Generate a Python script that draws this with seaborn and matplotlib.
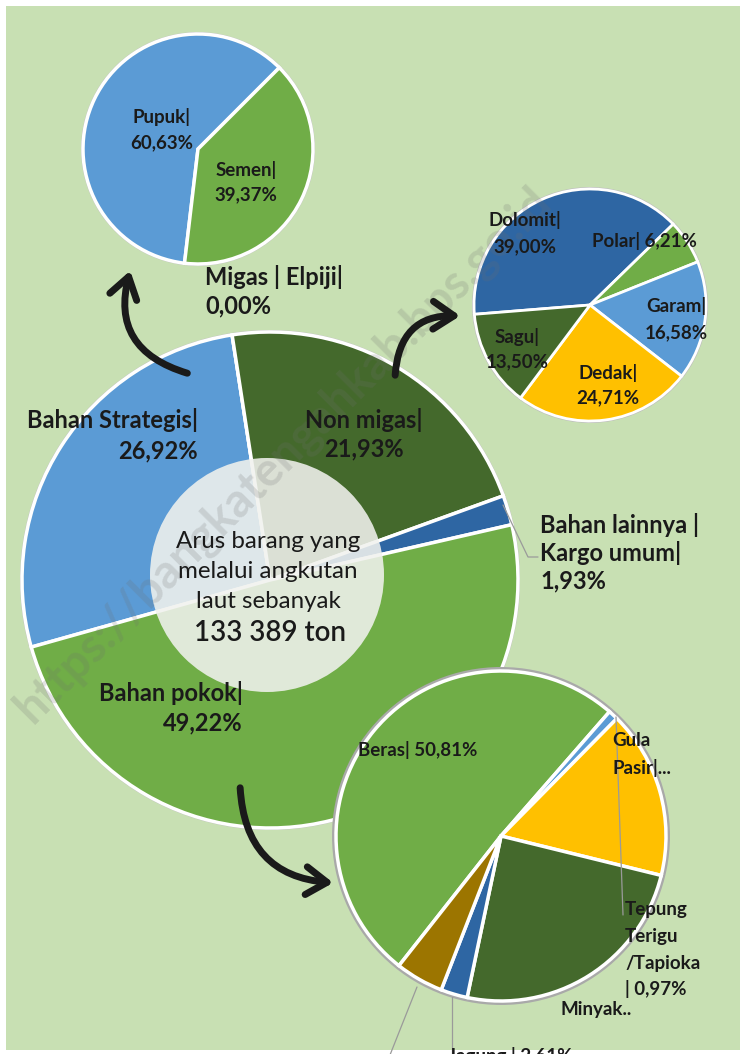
import matplotlib
matplotlib.use("Agg")
import matplotlib.pyplot as plt
from matplotlib.patches import Circle, Rectangle, FancyArrowPatch
import seaborn as sns

W, H = 740, 1054

# main pie: share of sea freight by goods group (%)
main_labels = ["Bahan Strategis", "Migas | Elpiji", "Non migas",
               "Bahan lainnya | Kargo umum", "Bahan pokok"]
main_values = [26.92, 0.00, 21.93, 1.93, 49.22]

# breakdown of Bahan Strategis
strat_labels = ["Pupuk", "Semen"]
strat_values = [60.63, 39.37]

# breakdown of Non migas
nonmigas_labels = ["Dolomit", "Polar", "Garam", "Dedak", "Sagu"]
nonmigas_values = [39.00, 6.21, 16.58, 24.71, 13.50]

# breakdown of Bahan pokok (last slice label lies outside the picture)
pokok_labels = ["Beras", "Tepung Terigu/Tapioka", "Gula Pasir", "Minyak Goreng", "Jagung", "Lainnya"]
pokok_values = [50.81, 0.97, 16.45, 24.45, 2.61, 4.71]

LBLUE = "#5B9BD5"
GREEN = "#70AD47"
DGREEN = "#44692C"
DBLUE = "#2E66A3"
YELLOW = "#FFC000"
BROWN = "#9C7500"
BG = "#C8E0B3"
INK = "#1A1A1A"

sns.set_theme(style="white")
plt.rcParams["font.family"] = ["Lato", "DejaVu Sans"]

BIG = 17
SMALL = 13.5


def pct(v):
    return f"{v:.2f}".replace(".", ",") + "%"


def put(ax, lines, x, y, ha="center", size=BIG, step=28, weight="bold"):
    # y given in picture pixels (from top)
    for i, line in enumerate(lines):
        ax.text(x, H - (y + i * step), line, ha=ha, va="center",
                fontsize=size, fontweight=weight, color=INK, zorder=20)


def leader(ax, xs, ys):
    ax.plot(xs, [H - y for y in ys], color="#9A9A9A", lw=0.9, zorder=19, clip_on=False)


fig = plt.figure(figsize=(W / 100, H / 100), dpi=100)
fig.patch.set_facecolor("white")
ax = fig.add_axes([0, 0, 1, 1])

ax.add_patch(Rectangle((6, 4), W, H - 10, facecolor=BG, edgecolor="none", zorder=0))

# watermark
ax.text(283, H - 455, "https://bangkatengahkab.bps.go.id", rotation=45,
        ha="center", va="center", fontsize=34, fontweight="bold",
        color="#6f6f6f", alpha=0.2, zorder=15)

# ---- main pie
mc, mr = (270, H - 580), 248
ax.add_patch(Circle(mc, mr + 2, facecolor="#BDBDBD", edgecolor="none", zorder=1))
ax.pie(main_values, center=mc, radius=mr, startangle=195.7, counterclock=False,
       colors=[LBLUE, DGREEN, DGREEN, DBLUE, GREEN],
       wedgeprops=dict(edgecolor="white", linewidth=2.5, zorder=2), frame=True)
ax.add_patch(Circle((267, H - 575), 117, facecolor="#F1F2EE", alpha=0.88,
                    edgecolor="none", zorder=3))
center_lines = ["Arus barang yang", "melalui angkutan", "laut sebanyak"]
for i, line in enumerate(center_lines):
    ax.text(268, H - (541 + i * 30), line, ha="center", va="center",
            fontsize=17.4, color=INK, zorder=20)
ax.text(270, H - 633, "133 389 ton", ha="center", va="center",
        fontsize=20, fontweight="semibold", color=INK, zorder=20)

put(ax, [main_labels[0] + "|", pct(main_values[0])], 198, 420, ha="right", step=31)
put(ax, ["Migas | Elpiji|", pct(main_values[1])], 205, 277, ha="left", step=29)
put(ax, [main_labels[2] + "|", pct(main_values[2])], 364, 420, step=29)
put(ax, ["Bahan lainnya |", "Kargo umum|", pct(main_values[3])], 540, 525, ha="left", step=28)
put(ax, [main_labels[4] + "|", pct(main_values[4])], 243, 693, ha="right", step=30)
leader(ax, [503, 528, 538], [505, 557, 557])

# ---- Bahan Strategis pie
sc, sr = (198, H - 149), 115
ax.add_patch(Circle(sc, sr + 2, facecolor="#BDBDBD", edgecolor="none", zorder=1))
ax.pie(strat_values, center=sc, radius=sr, startangle=45, counterclock=True,
       colors=[LBLUE, GREEN], wedgeprops=dict(edgecolor="white", linewidth=2.5, zorder=2),
       frame=True)
put(ax, [strat_labels[0] + "|", pct(strat_values[0])], 162, 117, size=SMALL, step=26)
put(ax, [strat_labels[1] + "|", pct(strat_values[1])], 246, 170, size=SMALL, step=25)

# ---- Non migas pie
nc, nr = (590, H - 305), 116
ax.add_patch(Circle(nc, nr + 2, facecolor="#BDBDBD", edgecolor="none", zorder=1))
ax.pie(nonmigas_values, center=nc, radius=nr, startangle=184.6, counterclock=False,
       colors=[DBLUE, GREEN, LBLUE, YELLOW, DGREEN],
       wedgeprops=dict(edgecolor="white", linewidth=2, zorder=2), frame=True)
put(ax, [nonmigas_labels[0] + "|", pct(nonmigas_values[0])], 525, 220, size=SMALL, step=27)
put(ax, [nonmigas_labels[1] + "| " + pct(nonmigas_values[1])], 644, 241, size=SMALL)
put(ax, [nonmigas_labels[2] + "|", pct(nonmigas_values[2])], 676, 306, size=SMALL, step=27)
put(ax, [nonmigas_labels[3] + "|", pct(nonmigas_values[3])], 608, 373, size=SMALL, step=25)
put(ax, [nonmigas_labels[4] + "|", pct(nonmigas_values[4])], 517, 337, size=SMALL, step=25)

# ---- Bahan pokok pie
pc, pr = (501, H - 836), 165
ax.add_patch(Circle(pc, pr + 4, facecolor="#A9A9A9", edgecolor="none", zorder=4))
ax.pie(pokok_values, center=pc, radius=pr, startangle=231.8, counterclock=False,
       colors=[GREEN, LBLUE, YELLOW, DGREEN, DBLUE, BROWN],
       wedgeprops=dict(edgecolor="white", linewidth=2.5, zorder=5), frame=True)
put(ax, [pokok_labels[0] + "| " + pct(pokok_values[0])], 358, 750, ha="left", size=SMALL)
put(ax, ["Gula", "Pasir|..."], 612, 741, ha="left", size=SMALL, step=27)
put(ax, ["Tepung", "Terigu", "/Tapioka", "| " + pct(pokok_values[1])], 625, 910,
    ha="left", size=SMALL, step=26.5)
put(ax, ["Minyak.."], 560, 1010, ha="left", size=SMALL)
put(ax, [pokok_labels[4] + " | " + pct(pokok_values[4])], 448, 1056, ha="left", size=SMALL)
leader(ax, [616, 623], [717, 915])
leader(ax, [452, 452], [997, 1060])
leader(ax, [417, 388], [987, 1060])

# ---- hand-drawn style arrows
for (x1, y1), (x2, y2), rad in [((190, 374), (131, 268), -0.5),
                                ((395, 378), (463, 316), -0.5),
                                ((240, 785), (336, 883), 0.45)]:
    ax.add_patch(FancyArrowPatch((x1, H - y1), (x2, H - y2),
                                 connectionstyle=f"arc3,rad={rad}",
                                 arrowstyle="->,head_length=0.75,head_width=0.5",
                                 mutation_scale=20, lw=5, color=INK,
                                 capstyle="round", zorder=18))

ax.set_xlim(0, W)
ax.set_ylim(0, H)
ax.set_aspect("auto")
ax.axis("off")

fig.savefig("out.png", dpi=100, facecolor="white")
